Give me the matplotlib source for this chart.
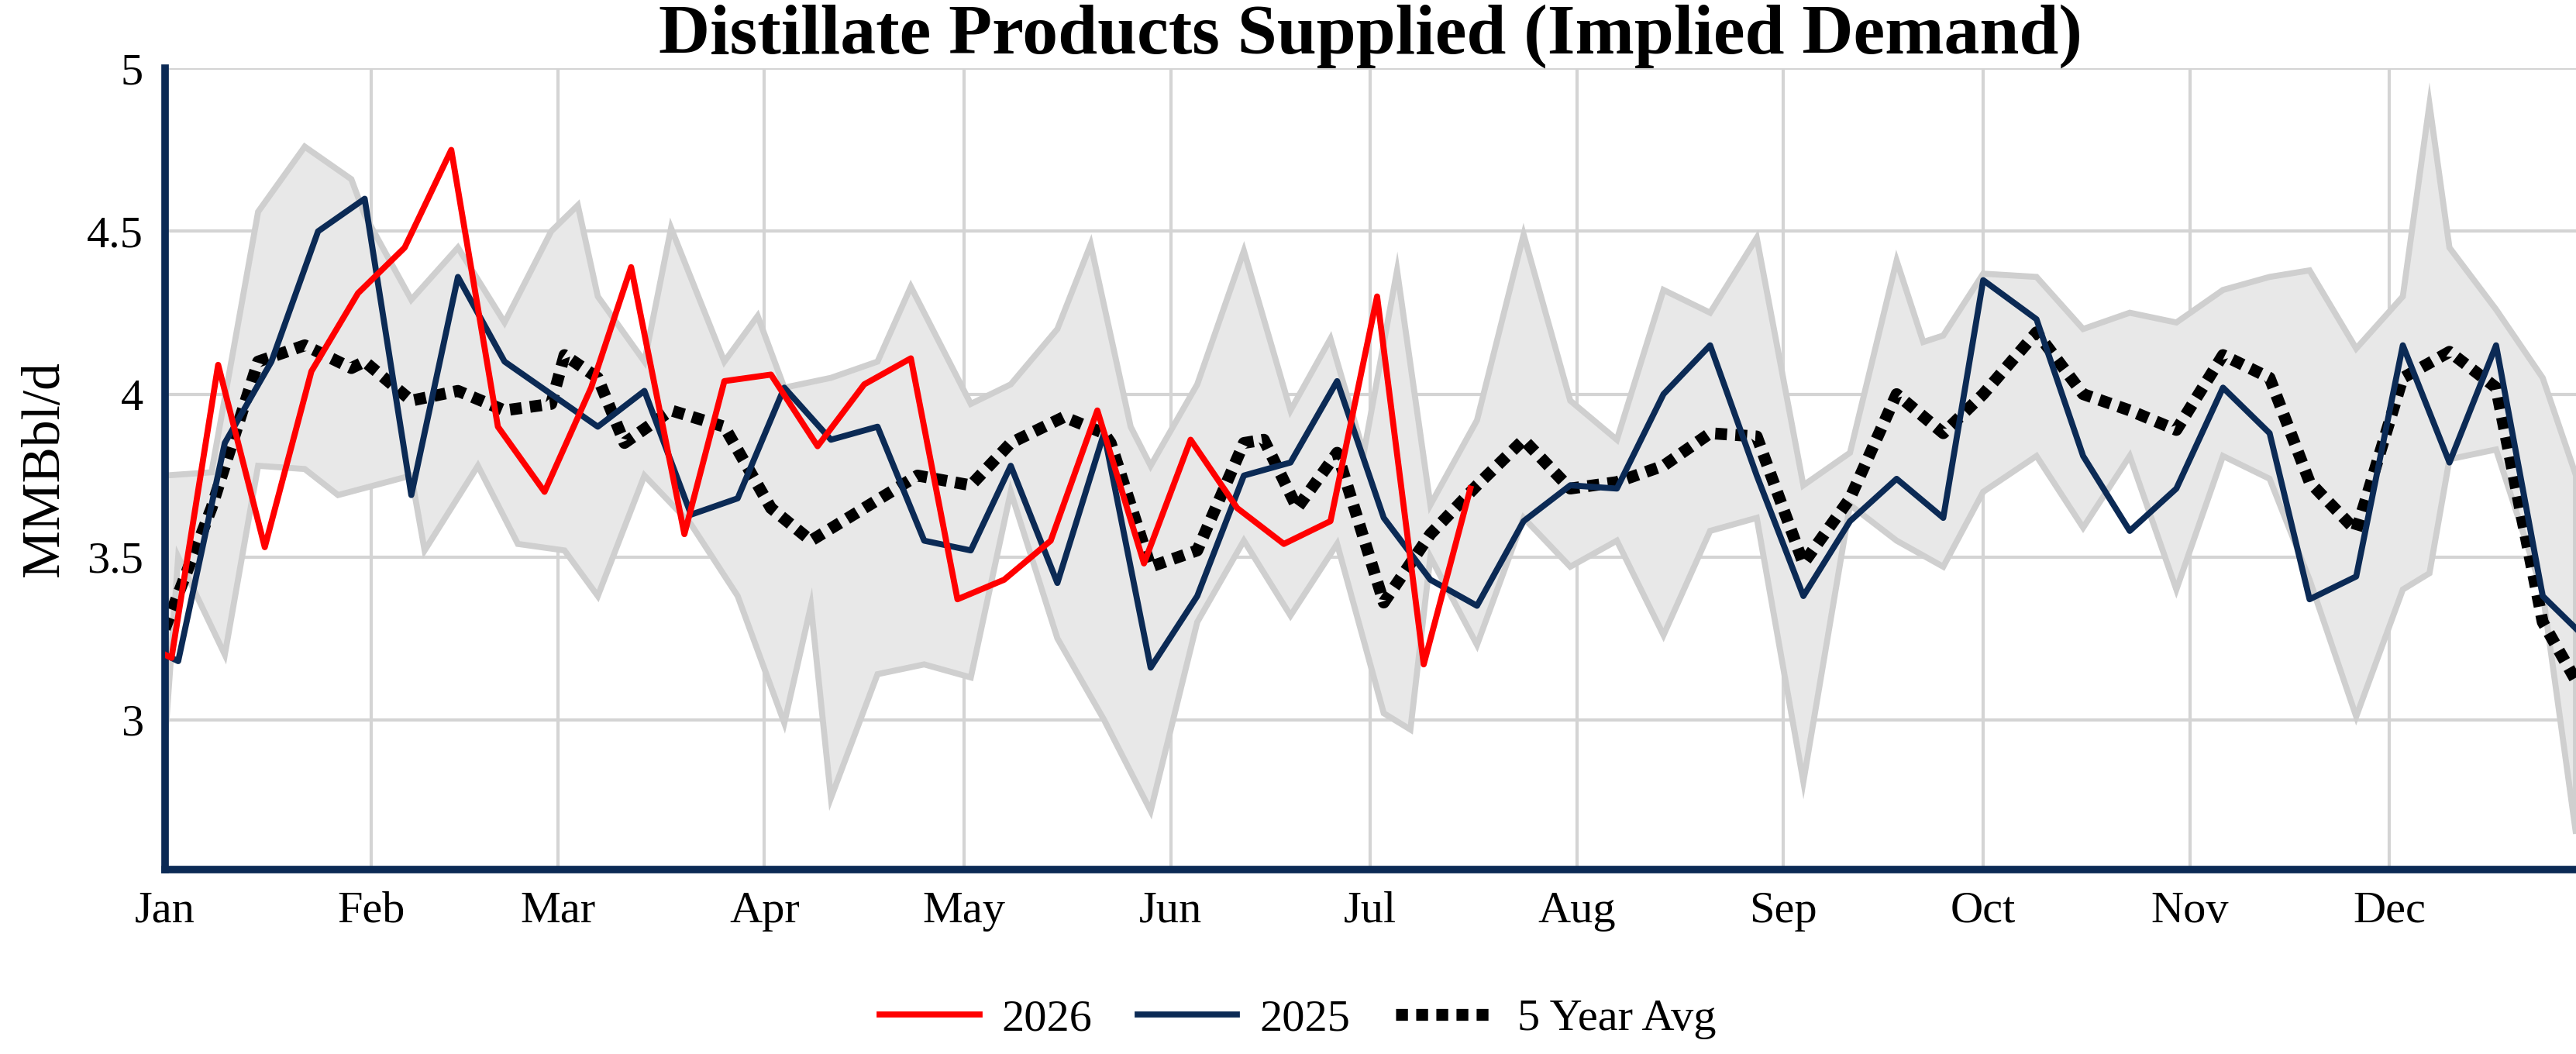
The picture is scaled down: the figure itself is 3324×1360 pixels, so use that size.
import matplotlib
matplotlib.use("Agg")
import matplotlib.pyplot as plt
import numpy as np

plt.rcParams["font.family"] = ["Liberation Serif", "DejaVu Serif"]

MONTHS = ["Jan", "Feb", "Mar", "Apr", "May", "Jun", "Jul", "Aug", "Sep", "Oct", "Nov", "Dec"]
MONTH_START = [0, 31, 59, 90, 120, 151, 181, 212, 243, 273, 304, 334]

# day of year, MMBbl/d
d2026 = [0, 1, 8, 15, 22, 29, 36, 43, 50, 57, 64, 70, 78, 84, 91, 98, 105, 112, 119, 126, 133, 140, 147, 154, 161, 168, 175, 182, 189, 196]
v2026 = [3.2, 3.19, 4.09, 3.53, 4.07, 4.31, 4.45, 4.75, 3.9, 3.7, 4.02, 4.39, 3.57, 4.04, 4.06, 3.84, 4.03, 4.11, 3.37, 3.43, 3.55, 3.95, 3.48, 3.86, 3.65, 3.54, 3.61, 4.3, 3.17, 3.71]

d2025 = [0, 2, 9, 16, 23, 30, 37, 44, 51, 58, 65, 72, 79, 86, 93, 100, 107, 114, 121, 127, 134, 141, 148, 155, 162, 169, 176, 183, 190, 197, 204, 211, 218, 225, 232, 239, 246, 253, 260, 267, 273, 281, 288, 295, 302, 309, 316, 322, 329, 336, 343, 350, 357, 362]
v2025 = [3.2, 3.18, 3.85, 4.1, 4.5, 4.6, 3.69, 4.36, 4.1, 4.0, 3.9, 4.01, 3.63, 3.68, 4.02, 3.86, 3.9, 3.55, 3.52, 3.78, 3.42, 3.88, 3.16, 3.38, 3.75, 3.79, 4.04, 3.62, 3.43, 3.35, 3.61, 3.72, 3.71, 4.0, 4.15, 3.75, 3.38, 3.61, 3.74, 3.62, 4.35, 4.23, 3.81, 3.58, 3.71, 4.02, 3.88, 3.37, 3.44, 4.15, 3.79, 4.15, 3.38, 3.28]

d_avg = [0, 7, 14, 21, 28, 30, 37, 44, 51, 58, 60, 65, 69, 76, 84, 91, 97, 105, 113, 121, 127, 135, 141, 142, 148, 155, 162, 165, 170, 176, 183, 190, 197, 204, 211, 218, 225, 232, 239, 246, 253, 260, 267, 273, 281, 288, 295, 302, 309, 316, 322, 329, 336, 343, 350, 357, 362]
v_avg = [3.28, 3.65, 4.1, 4.15, 4.08, 4.1, 3.98, 4.01, 3.95, 3.97, 4.12, 4.05, 3.85, 3.95, 3.9, 3.65, 3.55, 3.65, 3.75, 3.72, 3.85, 3.93, 3.88, 3.85, 3.47, 3.52, 3.85, 3.86, 3.65, 3.82, 3.36, 3.57, 3.72, 3.86, 3.71, 3.73, 3.78, 3.88, 3.87, 3.48, 3.68, 4.0, 3.88, 4.0, 4.19, 4.0, 3.95, 3.89, 4.12, 4.05, 3.73, 3.58, 4.05, 4.13, 4.02, 3.3, 3.12]

d_hi = [0, 7, 14, 21, 28, 30, 37, 44, 51, 58, 62, 65, 72, 76, 84, 89, 93, 100, 107, 112, 121, 127, 134, 139, 145, 148, 155, 162, 169, 175, 180, 185, 190, 197, 204, 211, 218, 225, 232, 239, 246, 253, 260, 264, 267, 273, 281, 288, 295, 302, 309, 316, 322, 329, 336, 340, 343, 350, 357, 362]
v_hi = [3.75, 3.76, 4.56, 4.76, 4.66, 4.55, 4.29, 4.45, 4.22, 4.5, 4.58, 4.3, 4.1, 4.51, 4.1, 4.24, 4.02, 4.05, 4.1, 4.33, 3.97, 4.03, 4.2, 4.46, 3.9, 3.78, 4.03, 4.44, 3.95, 4.17, 3.82, 4.38, 3.66, 3.92, 4.49, 3.98, 3.86, 4.32, 4.25, 4.48, 3.72, 3.82, 4.41, 4.16, 4.18, 4.37, 4.36, 4.2, 4.25, 4.22, 4.32, 4.36, 4.38, 4.14, 4.3, 4.89, 4.45, 4.26, 4.05, 3.75]

d_lo = [0, 2, 9, 14, 21, 26, 37, 39, 47, 53, 60, 65, 72, 79, 86, 93, 97, 100, 107, 114, 121, 127, 134, 141, 148, 155, 162, 169, 176, 183, 187, 190, 197, 204, 211, 218, 225, 232, 239, 246, 253, 260, 267, 273, 281, 288, 295, 302, 309, 316, 322, 329, 336, 340, 343, 350, 357, 362]
v_lo = [2.93, 3.5, 3.2, 3.78, 3.77, 3.69, 3.75, 3.52, 3.78, 3.54, 3.52, 3.38, 3.75, 3.6, 3.38, 2.99, 3.35, 2.76, 3.14, 3.17, 3.13, 3.7, 3.25, 3.0, 2.72, 3.3, 3.55, 3.32, 3.54, 3.02, 2.97, 3.5, 3.23, 3.62, 3.47, 3.55, 3.26, 3.58, 3.62, 2.81, 3.66, 3.55, 3.47, 3.7, 3.81, 3.59, 3.81, 3.4, 3.81, 3.74, 3.43, 3.01, 3.4, 3.45, 3.8, 3.83, 3.39, 2.65]

NAVY = "#0b2a55"

fig = plt.figure(figsize=(16.62, 6.8), dpi=200)
ax = fig.add_axes([0.064, 0.175, 0.936, 0.76])

band_x = np.concatenate([d_hi, d_lo[::-1]])
band_y = np.concatenate([v_hi, v_lo[::-1]])
ax.fill(band_x, band_y, facecolor="#e8e8e8", edgecolor="#cfcfcf", linewidth=2.8, zorder=1)

ax.plot(d2026, v2026, color="#ff0000", lw=2.8, label="2026", zorder=4)
ax.plot(d2025, v2025, color=NAVY, lw=2.8, label="2025", zorder=3)
ax.plot(d_avg, v_avg, color="black", lw=5.5, ls=(0, (1, 0.7)), label="5 Year Avg", zorder=2)

ax.set_xlim(0, 362)
ax.set_ylim(2.54, 5.0)
ax.set_xticks(MONTH_START)
ax.set_xticklabels(MONTHS)
ax.set_yticks([3, 3.5, 4, 4.5, 5])
ax.set_yticklabels(["3", "3.5", "4", "4.5", "5"])
ax.tick_params(labelsize=21, length=0, pad=10)
ax.grid(True, color="#d4d4d4", lw=1.5)
ax.set_axisbelow(True)
for s in ("top", "right"):
    ax.spines[s].set_visible(False)
for s in ("left", "bottom"):
    ax.spines[s].set_color(NAVY)
    ax.spines[s].set_linewidth(3.5)
ax.set_ylabel("MMBbl/d", fontsize=25, labelpad=8)
ax.set_title("Distillate Products Supplied (Implied Demand)", fontsize=33, fontweight="bold", pad=2)
ax.legend(loc="upper center", bbox_to_anchor=(0.47, -0.11), ncol=3, frameon=False,
          fontsize=21, handlelength=2.2, columnspacing=1.0, handletextpad=0.5)

fig.savefig("out.png", dpi=200)
